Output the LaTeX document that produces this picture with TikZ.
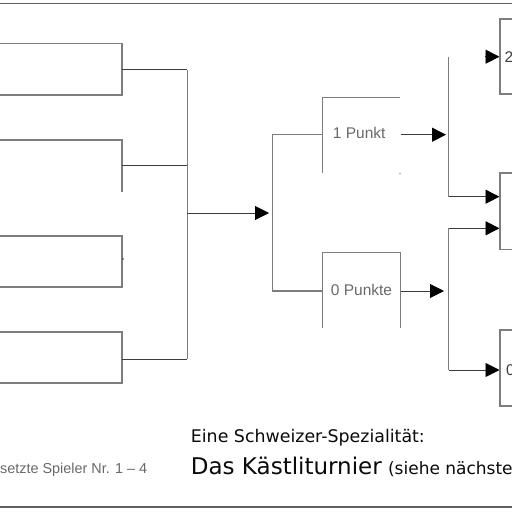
\documentclass[tikz,border=0pt]{standalone}
\usepackage{fontspec}
\setmainfont{Liberation Sans}
\newfontfamily\titlefont{DejaVu Sans}
\usetikzlibrary{arrows.meta}
\definecolor{lgray}{RGB}{125,125,125}
\definecolor{dgray}{RGB}{60,60,60}
\definecolor{tgray}{RGB}{105,105,105}
\definecolor{tblack}{RGB}{10,10,10}
\definecolor{border}{RGB}{95,95,95}
\begin{document}
\begin{tikzpicture}[x=1pt,y=-1pt,
  gl/.style={draw=lgray,line width=1.4pt},
  dl/.style={draw=dgray,line width=0.9pt},
  arr/.style={dl,-{Triangle[length=14pt,width=14pt,color=black]}},
  lbl/.style={inner sep=0pt,anchor=base west,text=tgray,font=\fontsize{15.5}{18}\selectfont},
  ttl/.style={inner sep=0pt,anchor=base west,text=tblack}]
\useasboundingbox (0,0) rectangle (512,512);
\clip (0,0) rectangle (512,512);
\fill[white] (0,0) rectangle (512,512);
% frame lines
\draw[draw=border,line width=1.5pt] (0,3.7) -- (512,3.7);
\draw[draw=border,line width=1.5pt] (0,507) -- (512,507);
% first round brackets
\draw[gl] (0,43.7) -- (122,43.7) -- (122,95) -- (0,95);
\draw[gl] (0,140) -- (122,140) -- (122,192);
\draw[gl] (0,236) -- (122,236) -- (122,287) -- (0,287);
\fill[dgray] (123,259) circle (0.8);
\draw[gl] (0,332) -- (122,332) -- (122,383) -- (0,383);
\coordinate (c1) at (187.3,69.7);
\coordinate (c4) at (187.3,359);
\draw[dl] (122,69.7) -- (c1);
\draw[dl] (122,165) -- (187.3,165);
\draw[dl] (122,359) -- (c4);
\draw[gl] (c1) -- (c4);
% main arrow
\coordinate (m) at (187.3,213);
\coordinate (mt) at (269,213);
\draw[arr] (m) -- (mt);
% split
\draw[gl] (322.7,134.7) -- (272.7,134.7) -- (272.7,291) -- (322.7,291);
% 1 Punkt
\draw[gl] (400,97.7) -- (322.7,97.7) -- (322.7,173.3);
\fill[lgray] (400,173.3) circle (0.7);
\node[lbl] (p1) at (332.7,138) {1 Punkt};
% 0 Punkte
\draw[gl] (322.7,327.7) -- (322.7,252.7) -- (400.3,252.7) -- (400.3,327.7);
\node[lbl] (p0) at (330.7,295.5) {0 Punkte};
\draw[arr] (400.5,134.7) -- (446,134.7);
\draw[arr] (400.5,291) -- (444,291);
% right verticals
\draw[gl] (448.5,56.7) -- (448.5,196.7);
\draw[gl] (448.5,228.3) -- (448.5,370);
\draw[arr] (448.5,196.7) -- (499.5,196.7);
\draw[arr] (448.5,228.3) -- (499.5,228.3);
\draw[arr] (448.5,370) -- (499.5,370);
\draw[arr] (485,56.7) -- (499.5,56.7);
% right boxes
\draw[gl] (513,19) -- (500,19) -- (500,94) -- (513,94);
\draw[gl] (513,173) -- (500,173) -- (500,249.3) -- (513,249.3);
\draw[gl] (513,330) -- (500,330) -- (500,406) -- (513,406);
\node[lbl,text=dgray] (r2) at (504.5,62) {2};
\node[lbl,text=dgray] (r0) at (506,375.5) {0};
% texts
\node[ttl,font=\titlefont\fontsize{17.4}{20}\selectfont] (t1) at (190.7,442.7) {Eine Schweizer-Spezialität:};
\node[ttl,font=\titlefont\fontsize{23}{26}\selectfont] (t2) at (190.7,474) {Das Kästliturnier\hspace{-1pt} {\fontsize{17}{20}\selectfont (siehe nächste}};
\node[lbl,font=\fontsize{14.4}{17}\selectfont] (t3) at (0,473.3) {setzte Spieler Nr. 1 – 4};
\end{tikzpicture}
\end{document}
